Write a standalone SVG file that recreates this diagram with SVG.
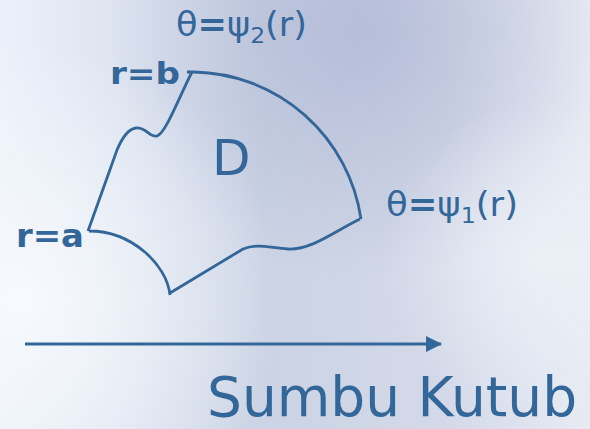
<svg xmlns="http://www.w3.org/2000/svg" width="590" height="429" viewBox="0 0 590 429">
<defs>
<linearGradient id="bg" x1="0" y1="0" x2="1" y2="0">
<stop offset="0" stop-color="#eaf1f9"/>
<stop offset="0.45" stop-color="#cbd3e4"/>
<stop offset="0.75" stop-color="#d3d9e8"/>
<stop offset="1" stop-color="#e6ebf3"/>
</linearGradient>
<radialGradient id="lav" cx="360" cy="30" r="250" gradientUnits="userSpaceOnUse">
<stop offset="0" stop-color="#aab2d2" stop-opacity="0.7"/>
<stop offset="1" stop-color="#aab2d2" stop-opacity="0"/>
</radialGradient>
<radialGradient id="wh" cx="20" cy="300" r="260" gradientUnits="userSpaceOnUse">
<stop offset="0" stop-color="#f6f9fd" stop-opacity="1"/>
<stop offset="1" stop-color="#f6f9fd" stop-opacity="0"/>
</radialGradient>
<radialGradient id="wh2" cx="540" cy="260" r="160" gradientUnits="userSpaceOnUse">
<stop offset="0" stop-color="#eef2f8" stop-opacity="0.8"/>
<stop offset="1" stop-color="#eef2f8" stop-opacity="0"/>
</radialGradient>
<marker id="ah" markerWidth="16" markerHeight="16" refX="15" refY="8" orient="auto" markerUnits="userSpaceOnUse">
<path d="M0,0 L16,8 L0,16 Z" fill="#336699"/>
</marker>
<style>
.t{fill:#336699;font-family:"DejaVu Sans",Verdana,sans-serif}
.b{font-weight:bold}
.ln{fill:none;stroke:#336699;stroke-width:2.8;stroke-linejoin:miter}
</style>
</defs>
<rect width="590" height="429" fill="url(#bg)"/>
<rect width="590" height="429" fill="url(#lav)"/>
<rect width="590" height="429" fill="url(#wh)"/>
<rect width="590" height="429" fill="url(#wh2)"/>
<g id="connectors">
<line class="ln" x1="25" y1="344" x2="441" y2="344" marker-end="url(#ah)"/>
</g>
<g id="region-D">
<path class="ln" d="M187,72 H194 A172,172 0 0 1 361,219 M360,219 C335,231 312,250 288,249 C270,248 258,243 243,249 L170,293 M170,295 C167,265 132,231 89,231 M88,231 L117,150 C122,138 128,129 136,128 C146,127 150,138 157,136 C166,133 180,95 192,72"/>
<text class="t" x="212" y="175" font-size="50">D</text>
</g>
<g id="label-psi2">
<text class="t" x="176" y="36" font-size="33" textLength="131" lengthAdjust="spacingAndGlyphs">θ<tspan class="b">=</tspan>ψ<tspan font-size="22" dy="7">2</tspan><tspan dy="-7">(r)</tspan></text>
</g>
<g id="label-psi1">
<text class="t" x="386" y="216" font-size="33" textLength="132" lengthAdjust="spacingAndGlyphs">θ<tspan class="b">=</tspan>ψ<tspan font-size="22" dy="7">1</tspan><tspan dy="-7">(r)</tspan></text>
</g>
<g id="label-b">
<text class="t b" x="110" y="84" font-size="31" textLength="70" lengthAdjust="spacingAndGlyphs">r=b</text>
</g>
<g id="label-a">
<text class="t b" x="16" y="247" font-size="32" textLength="68" lengthAdjust="spacingAndGlyphs">r=a</text>
</g>
<g id="axis-label">
<text class="t" x="207" y="416" font-size="55">Sumbu Kutub</text>
</g>
</svg>
